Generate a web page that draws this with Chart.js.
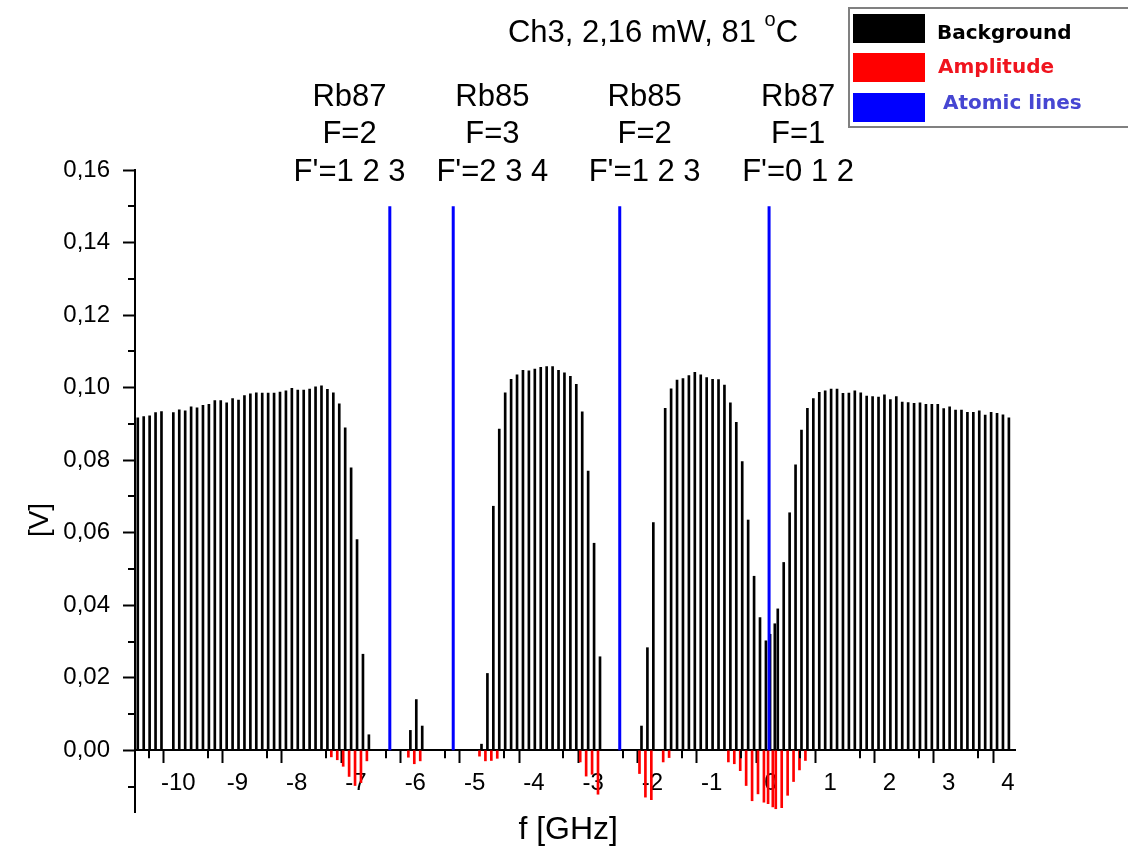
<!DOCTYPE html>
<html>
<head>
<meta charset="utf-8">
<title>Ch3, 2,16 mW, 81 °C</title>
<script src="https://cdn.jsdelivr.net/npm/chart.js@4.4.1/dist/chart.umd.min.js"></script>
<style>
  html, body { margin: 0; padding: 0; background: #fff; }
</style>
</head>
<body>
<canvas id="chart" width="1128" height="849"></canvas>
<script>
// background signal (black bars), GHz / V
var bgX = [-10.7, -10.6, -10.5, -10.4, -10.3, -10.1, -10.0, -9.9, -9.8, -9.7, -9.6, -9.5, -9.4, -9.3, -9.2, -9.1, -9.0,
  -8.9, -8.8, -8.7, -8.6, -8.5, -8.4, -8.3, -8.2, -8.1, -8.0, -7.9, -7.8, -7.7, -7.6, -7.5, -7.4, -7.3, -7.2, -7.1, -7.0,
  -6.9, -6.8, -6.1, -6.0, -5.9,
  -4.9, -4.8, -4.7, -4.6, -4.5, -4.4, -4.3, -4.2, -4.1, -4.0, -3.9, -3.8, -3.7, -3.6, -3.5, -3.4, -3.3, -3.2, -3.1, -3.0, -2.9,
  -2.2, -2.1, -2.0, -1.8, -1.7, -1.6, -1.5, -1.4, -1.3, -1.2, -1.1, -1.0, -0.9, -0.8, -0.7, -0.6, -0.5, -0.4, -0.3, -0.2, -0.1,
  -0.03, 0.05, 0.1, 0.2, 0.3, 0.4, 0.5, 0.6, 0.7, 0.8, 0.9, 1.0, 1.1, 1.2, 1.3, 1.4, 1.5, 1.6, 1.7, 1.8, 1.9, 2.0,
  2.1, 2.2, 2.3, 2.4, 2.5, 2.6, 2.7, 2.8, 2.9, 3.0, 3.1, 3.2, 3.3, 3.4, 3.5, 3.6, 3.7, 3.8, 3.9, 4.0];
var bgY = [0.0917, 0.0920, 0.0922, 0.0931, 0.0934, 0.0931, 0.0939, 0.0936, 0.0947, 0.0944, 0.0951, 0.0954, 0.0964, 0.0964, 0.0958, 0.0970, 0.0966,
  0.0978, 0.0983, 0.0986, 0.0985, 0.0985, 0.0985, 0.0988, 0.0991, 0.0998, 0.0993, 0.0993, 0.0996, 0.1002, 0.1005, 0.0995, 0.0986, 0.0955, 0.0889, 0.0779, 0.0581,
  0.0265, 0.0043, 0.0055, 0.0140, 0.0067,
  0.0017, 0.0212, 0.0673, 0.0886, 0.0986, 0.1023, 0.1035, 0.1048, 0.1046, 0.1051, 0.1056, 0.1058, 0.1058, 0.1048, 0.1041, 0.1031, 0.1009, 0.0933, 0.0770, 0.0571, 0.0258,
  0.0067, 0.0283, 0.0628, 0.0943, 0.0997, 0.1021, 0.1025, 0.1033, 0.1042, 0.1035, 0.1028, 0.1023, 0.1022, 0.1007, 0.0958, 0.0904, 0.0796, 0.0635, 0.0480, 0.0366, 0.0302,
  0.0320, 0.0349, 0.0390, 0.0518, 0.0655, 0.0787, 0.0883, 0.0943, 0.0970, 0.0987, 0.0991, 0.0996, 0.0996, 0.0984, 0.0985, 0.0991, 0.0986, 0.0977, 0.0975, 0.0974, 0.0980, 0.0967,
  0.0975, 0.0960, 0.0959, 0.0957, 0.0958, 0.0954, 0.0954, 0.0954, 0.0942, 0.0947, 0.0938, 0.0938, 0.0932, 0.0932, 0.0936, 0.0924, 0.0932, 0.0929, 0.0925, 0.0917];

// amplitude (red bars)
var ampX = [-7.4, -7.3, -7.2, -7.1, -7.0, -6.9, -6.8, -6.1, -6.0, -5.9, -4.9, -4.8, -4.7, -4.6,
  -3.2, -3.1, -3.0, -2.9, -2.2, -2.1, -2.0, -1.8, -1.7,
  -0.7, -0.6, -0.5, -0.4, -0.3, -0.2, -0.1, -0.03, 0.05, 0.1, 0.2, 0.3, 0.4, 0.5, 0.6];
var ampY = [-0.0018, -0.0026, -0.0044, -0.0072, -0.0097, -0.0089, -0.0029, -0.0019, -0.0037, -0.0029, -0.0016, -0.0029, -0.0028, -0.0022,
  -0.0032, -0.0071, -0.0066, -0.0121, -0.0064, -0.0129, -0.0136, -0.0032, -0.0020,
  -0.0032, -0.0037, -0.0056, -0.0097, -0.0139, -0.0120, -0.0143, -0.0147, -0.0156, -0.0161, -0.0158, -0.0124, -0.0086, -0.0054, -0.0028];

// atomic lines (blue)
var lineX = [-6.43, -5.36, -2.55, -0.03];
var lineTop = 0.15;

// transition labels above the lines
var groupX = [-7.11, -4.70, -2.13, 0.46];
var groupText = [
  ["Rb87", "F=2", "F'=1 2 3"],
  ["Rb85", "F=3", "F'=2 3 4"],
  ["Rb85", "F=2", "F'=1 2 3"],
  ["Rb87", "F=1", "F'=0 1 2"]
];

var legendNames = ["Background", "Amplitude", "Atomic lines"];
var legendText = ["#000000", "#f0141e", "#4646d2"];

function toXY(xs, ys) {
  var out = [];
  for (var i = 0; i < xs.length; i++) out.push({ x: xs[i], y: ys[i] });
  return out;
}

var linePts = [];
lineX.forEach(function (x) {
  linePts.push({ x: x, y: 0 });
  linePts.push({ x: x, y: lineTop });
  linePts.push({ x: x, y: null });
});

function isMajorX(v) { return Math.abs(v - Math.round(v)) < 1e-6; }
function isMajorY(v) { return Math.abs(v * 50 - Math.round(v * 50)) < 1e-6; }

var FONT = '"Liberation Sans", Arial, sans-serif';

var decor = {
  id: 'decor',
  afterDraw: function (chart) {
    var ctx = chart.ctx;
    var ca = chart.chartArea;
    var xs = chart.scales.x, ys = chart.scales.y;
    var y0 = ys.getPixelForValue(0);
    ctx.save();

    // minor ticks
    ctx.strokeStyle = '#000';
    ctx.lineWidth = 2;
    xs.ticks.forEach(function (t) {
      if (isMajorX(t.value)) return;
      var px = Math.round(xs.getPixelForValue(t.value));
      ctx.beginPath(); ctx.moveTo(px, y0); ctx.lineTo(px, y0 + 8); ctx.stroke();
    });
    ys.ticks.forEach(function (t) {
      if (isMajorY(t.value)) return;
      var py = Math.round(ys.getPixelForValue(t.value));
      ctx.beginPath(); ctx.moveTo(ca.left, py); ctx.lineTo(ca.left - 7, py); ctx.stroke();
    });

    // axis titles
    ctx.fillStyle = '#000';
    ctx.textAlign = 'center';
    ctx.textBaseline = 'middle';
    ctx.font = '32px ' + FONT;
    ctx.fillText('f [GHz]', xs.getPixelForValue(-3.42), ca.bottom + 18);
    ctx.save();
    ctx.font = '28px ' + FONT;
    ctx.translate(40, (ca.top + ca.bottom) / 2 + 29);
    ctx.rotate(-Math.PI / 2);
    ctx.fillText('[V]', 0, 0);
    ctx.restore();

    // title with superscript degree
    ctx.textAlign = 'left';
    ctx.textBaseline = 'alphabetic';
    var big = '31px ' + FONT, small = '20px ' + FONT;
    var t1 = 'Ch3, 2,16 mW, 81 ';
    ctx.font = big;
    var w1 = ctx.measureText(t1).width;
    var wc = ctx.measureText('C').width;
    ctx.font = small;
    var wo = ctx.measureText('o').width;
    var tx = 653 - (w1 + wo + wc) / 2;
    ctx.font = big;
    ctx.fillText(t1, tx, 42);
    ctx.fillText('C', tx + w1 + wo, 42);
    ctx.font = small;
    ctx.fillText('o', tx + w1, 26);

    // transition labels
    ctx.textAlign = 'center';
    ctx.textBaseline = 'middle';
    ctx.font = '31px ' + FONT;
    groupX.forEach(function (gx, i) {
      var px = xs.getPixelForValue(gx);
      groupText[i].forEach(function (s, j) {
        ctx.fillText(s, px, 97 + j * 37.5);
      });
    });

    // legend box
    var lx = 849, ly = 8;
    ctx.strokeStyle = '#808080';
    ctx.lineWidth = 2;
    ctx.strokeRect(lx, ly, 290, 119);
    ctx.textAlign = 'left';
    ctx.textBaseline = 'alphabetic';
    ctx.font = 'bold 20px "DejaVu Sans", sans-serif';
    var sw = [chart.data.datasets[1], chart.data.datasets[0], chart.data.datasets[2]];
    var swY = [14, 53, 93];
    var txtX = [937, 938, 943];
    var txtY = [39, 73, 109];
    legendNames.forEach(function (name, i) {
      var ds = sw[i];
      ctx.fillStyle = ds.backgroundColor || ds.borderColor;
      ctx.fillRect(853, swY[i], 72, 29);
      ctx.fillStyle = legendText[i];
      ctx.fillText(name, txtX[i], txtY[i]);
    });
    ctx.restore();
  }
};

var tickFont = { family: FONT, size: 24 };

new Chart(document.getElementById('chart'), {
  type: 'bar',
  data: {
    datasets: [
      { label: 'Amplitude', data: toXY(ampX, ampY), backgroundColor: '#ff0000', barThickness: 2, order: 1 },
      { label: 'Background', data: toXY(bgX, bgY), backgroundColor: '#000000', barThickness: 2, order: 1 },
      { type: 'line', label: 'Atomic lines', data: linePts, borderColor: '#0000ff', backgroundColor: '#0000ff',
        borderWidth: 3, pointRadius: 0, spanGaps: false, order: 0 }
    ]
  },
  options: {
    responsive: false,
    animation: false,
    layout: { padding: { left: 0, right: 113, top: 170, bottom: 37 } },
    plugins: { legend: { display: false }, tooltip: { enabled: false } },
    scales: {
      x: {
        type: 'linear',
        min: -10.73,
        max: 4.12,
        offset: false,
        position: { y: 0 },
        border: { display: true, color: '#000', width: 2 },
        grid: {
          drawOnChartArea: false, drawTicks: true, tickLength: 12, tickWidth: 2,
          tickColor: function (c) { return c.tick && isMajorX(c.tick.value) ? '#000' : 'rgba(0,0,0,0)'; }
        },
        ticks: {
          stepSize: 0.5, includeBounds: false, autoSkip: false, maxRotation: 0, padding: 7,
          color: '#000', font: tickFont,
          callback: function (v) { return isMajorX(v) ? String(Math.round(v)) : ''; }
        }
      },
      y: {
        min: -0.017,
        max: 0.16,
        afterFit: function (s) { s.width = 135; },
        border: { display: true, color: '#000', width: 2 },
        grid: {
          drawOnChartArea: false, drawTicks: true, tickLength: 12, tickWidth: 2,
          tickColor: function (c) { return c.tick && isMajorY(c.tick.value) ? '#000' : 'rgba(0,0,0,0)'; }
        },
        ticks: {
          stepSize: 0.01, includeBounds: false, autoSkip: false, padding: 13,
          color: '#000', font: tickFont,
          callback: function (v) {
            if (!isMajorY(v) || v < -1e-9) return '';
            return (Math.round(v * 100) / 100).toFixed(2).replace('.', ',');
          }
        }
      }
    }
  },
  plugins: [decor]
});
</script>
</body>
</html>
